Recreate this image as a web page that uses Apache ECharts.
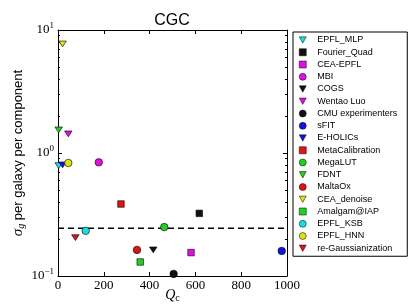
<!DOCTYPE html>
<html>
<head>
<meta charset="utf-8">
<script src="https://cdn.jsdelivr.net/npm/echarts@6/dist/echarts.min.js"></script>
<style>html,body{margin:0;padding:0;background:#fff;}#c{width:411px;height:308px;}</style>
</head>
<body>
<div id="c"></div>
<script>
var methods = ['EPFL_MLP','Fourier_Quad','CEA-EPFL','MBI','COGS','Wentao Luo','CMU experimenters','sFIT','E-HOLICs','MetaCalibration','MegaLUT','FDNT','MaltaOx','CEA_denoise','Amalgam@IAP','EPFL_KSB','EPFL_HNN','re-Gaussianization'];
var qValues = [3, 617, 581, 178, 416, 45, 505, 977, 20, 275, 464, 3, 345, 20, 359, 121, 45, 76];
var sigmaValues = [0.79, 0.323, 0.155, 0.84, 0.163, 1.43, 0.104, 0.16, 0.80, 0.385, 0.25, 1.54, 0.163, 7.7, 0.130, 0.233, 0.83, 0.205];
var markerKinds = ['tri','sq','sq','ci','tri','tri','ci','ci','tri','sq','ci','tri','ci','tri','sq','ci','ci','tri'];
var markerColors = ['#19dede','#111111','#e010e0','#e010e0','#111111','#e010e0','#111111','#1414e0','#1414e0','#e01414','#22d022','#22d022','#e01414','#e0e010','#22d022','#19dede','#e0e010','#e01414'];
var xTicks = [0, 200, 400, 600, 800, 1000];
var yMajorTicks = [0.1, 1, 10];
var yMinorTicks = [0.2, 0.3, 0.4, 0.5, 0.6, 0.7, 0.8, 0.9, 2, 3, 4, 5, 6, 7, 8, 9];
var thresholdSigma = 0.245;

var serif = 'Liberation Serif';
var sans = 'Liberation Sans';
var triPath = 'path://M0,0 L10,0 L5,9 Z';

function symbolFor(k) {
  return k === 'tri' ? triPath : (k === 'sq' ? 'rect' : 'circle');
}

var series = methods.map(function (name, i) {
  var k = markerKinds[i];
  return {
    name: name,
    type: 'scatter',
    xAxisIndex: 0, yAxisIndex: 0,
    symbol: symbolFor(k),
    symbolKeepAspect: true,
    symbolSize: k === 'tri' ? [7.5, 6.5] : (k === 'sq' ? 6.5 : 7.5),
    itemStyle: { color: markerColors[i], borderColor: '#000', borderWidth: 0.6, opacity: 1 },
    data: [[qValues[i], sigmaValues[i]]],
    z: 3,
    clip: false
  };
});
series.unshift({
  name: 'threshold',
  type: 'line',
  xAxisIndex: 0, yAxisIndex: 0,
  data: [[xTicks[0], thresholdSigma], [xTicks[xTicks.length - 1], thresholdSigma]],
  symbol: 'none',
  lineStyle: { color: '#000', width: 1.5, type: [6, 4] },
  z: 2,
  silent: true
});

function logLabel(v) {
  var e = Math.round(Math.log10(v));
  return '{b|10}{s|' + (e < 0 ? '\u2212' + (-e) : e) + '}';
}

var legendData = methods.map(function (name, i) {
  return { name: name, icon: symbolFor(markerKinds[i]) };
});

// minor ticks drawn on a hidden-line value axis carrying log10 of the tick values
var minorExp = yMinorTicks.map(function (v) { return Math.log10(v); });
var lo = Math.log10(yMajorTicks[0]), hi = Math.log10(yMajorTicks[yMajorTicks.length - 1]);

function minorAxis(pos) {
  return {
    type: 'value', min: lo, max: hi, gridIndex: 1, position: pos,
    axisLine: { show: false, onZero: false },
    axisTick: { show: true, inside: true, length: 2, lineStyle: { color: '#000', width: 1 }, customValues: minorExp },
    axisLabel: { show: false, customValues: minorExp },
    splitLine: { show: false }
  };
}

var gridRect = { left: 58, top: 30, right: 124, bottom: 32, outerBoundsMode: 'none', containLabel: false };

var option = {
  animation: false,
  backgroundColor: '#fff',
  title: {
    text: 'CGC', left: 167, top: 8, textAlign: 'center',
    textStyle: { fontFamily: sans, fontSize: 16, fontWeight: 'normal', color: '#000' }
  },
  grid: [gridRect, Object.assign({}, gridRect)],
  legend: {
    data: legendData,
    orient: 'vertical',
    left: 293, top: 32,
    width: 115,
    padding: [2, 10, 2, 6],
    itemWidth: 7, itemHeight: 7, itemGap: 0.25,
    borderColor: '#000', borderWidth: 1,
    itemStyle: { borderColor: '#000', borderWidth: 0.5 },
    textStyle: { fontFamily: sans, fontSize: 9, color: '#000', lineHeight: 12, padding: [0, 0, 0, 6] },
    selectedMode: false
  },
  xAxis: [{
    type: 'value', min: 0, max: 1000, interval: 200, gridIndex: 0,
    name: '{q|Q}{c|c}', nameLocation: 'middle', nameGap: 11, nameMoveOverlap: false,
    nameTextStyle: { rich: {
      q: { fontFamily: serif, fontStyle: 'italic', fontSize: 14, color: '#000' },
      c: { fontFamily: serif, fontSize: 10, color: '#000', padding: [6, 0, 0, 0] }
    } },
    axisLine: { show: true, onZero: false, lineStyle: { color: '#000', width: 1 } },
    axisTick: { show: true, inside: true, length: 4, lineStyle: { color: '#000' } },
    axisLabel: { fontFamily: serif, fontSize: 13, color: '#000', margin: 3, formatter: function (v) { return String(v); } },
    splitLine: { show: false }
  }, {
    type: 'value', min: 0, max: 1000, interval: 200, position: 'top', gridIndex: 0,
    axisLine: { show: true, onZero: false, lineStyle: { color: '#000', width: 1 } },
    axisTick: { show: true, inside: true, length: 4, lineStyle: { color: '#000' } },
    axisLabel: { show: false }, splitLine: { show: false }
  }, {
    type: 'value', min: 0, max: 1000, gridIndex: 1, show: false
  }],
  yAxis: [{
    type: 'log', min: 0.1, max: 10, logBase: 10, position: 'left', gridIndex: 0,
    name: '{s|\u03c3}{g|g}{t| per galaxy per component}', nameLocation: 'middle', nameGap: 32, nameRotate: 90, nameMoveOverlap: false,
    nameTextStyle: { rich: {
      s: { fontFamily: serif, fontStyle: 'italic', fontSize: 15, color: '#000' },
      g: { fontFamily: serif, fontStyle: 'italic', fontSize: 10, color: '#000', padding: [6, 0, 0, 0] },
      t: { fontFamily: sans, fontSize: 13, color: '#000' }
    } },
    axisLine: { show: true, onZero: false, lineStyle: { color: '#000', width: 1 } },
    axisTick: { show: true, inside: true, length: 4, lineStyle: { color: '#000' } },
    minorTick: { show: false },
    axisLabel: {
      show: true, margin: 4, formatter: logLabel,
      rich: {
        b: { fontFamily: serif, fontSize: 13, color: '#000' },
        s: { fontFamily: serif, fontSize: 9, color: '#000', padding: [0, 0, 8, 0] }
      }
    },
    splitLine: { show: false }, minorSplitLine: { show: false }
  }, {
    type: 'log', min: 0.1, max: 10, logBase: 10, position: 'right', gridIndex: 0,
    axisLine: { show: true, onZero: false, lineStyle: { color: '#000', width: 1 } },
    axisTick: { show: true, inside: true, length: 4, lineStyle: { color: '#000' } },
    minorTick: { show: false },
    axisLabel: { show: false },
    splitLine: { show: false }, minorSplitLine: { show: false }
  }, minorAxis('left'), minorAxis('right')],
  series: series
};
var chart = echarts.init(document.getElementById('c'), null, { renderer: 'canvas' });
chart.setOption(option);
</script>
</body>
</html>
